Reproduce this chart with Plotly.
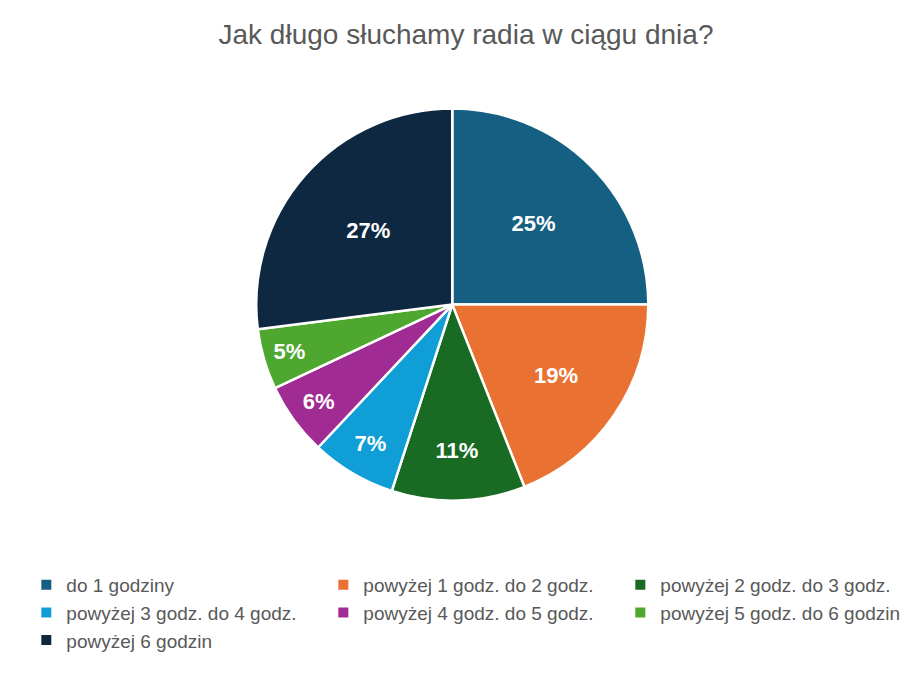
import plotly.graph_objects as go

labels = ["do 1 godziny", "powyżej 1 godz. do 2 godz.", "powyżej 2 godz. do 3 godz.",
          "powyżej 3 godz. do 4 godz.", "powyżej 4 godz. do 5 godz.", "powyżej 5 godz. do 6 godzin",
          "powyżej 6 godzin"]
values = [25, 19, 11, 7, 6, 5, 27]
colors = ["#156082", "#E97132", "#196B24", "#0F9ED5", "#A02B93", "#4EA72E", "#0E2841"]

fig = go.Figure(go.Pie(
    labels=labels, values=values, sort=False, direction="clockwise", rotation=0,
    marker=dict(colors=colors, line=dict(color="white", width=2.5)),
    textinfo="percent", textposition="inside", insidetextorientation="horizontal",
    textfont=dict(color="white", size=22, family="Liberation Sans"),
    texttemplate="<b>%{percent:.0%}</b>",
    domain=dict(x=[0.271, 0.699], y=[0.289, 0.855]),
))
fig.update_layout(
    width=916, height=693, margin=dict(l=0, r=0, t=0, b=0),
    paper_bgcolor="white", font=dict(family="Liberation Sans", color="#595959"),
    title=dict(text="Jak długo słuchamy radia w ciągu dnia?", x=0.5, xanchor="center",
               y=0.962, yanchor="middle", font=dict(size=28, color="#595959")),
    legend=dict(orientation="h", x=0.02, xanchor="left", y=0.195, yanchor="top",
                entrywidth=252, entrywidthmode="pixels", font=dict(size=19, color="#595959"),
                traceorder="normal", itemsizing="constant"),
)
fig.write_html("out.html")
